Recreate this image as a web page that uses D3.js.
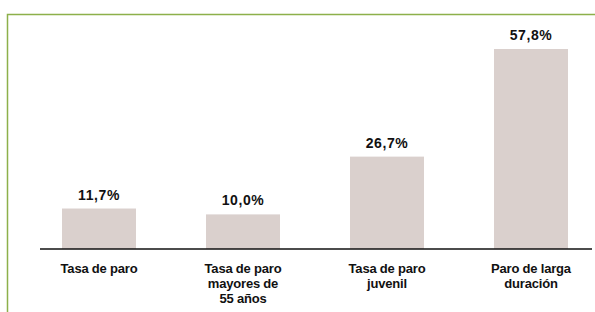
<!DOCTYPE html>
<html>
<head>
<meta charset="utf-8">
<script src="https://cdn.jsdelivr.net/npm/d3@7"></script>
<style>
  body { margin: 0; background: #fff; }
  svg { display: block; font-family: 'Liberation Sans', Arial, sans-serif; }
</style>
</head>
<body>
<div id="chart"></div>
<script>
const categories = [
  ['Tasa de paro'],
  ['Tasa de paro', 'mayores de', '55 años'],
  ['Tasa de paro', 'juvenil'],
  ['Paro de larga', 'duración']
]
const values = [11.7, 10.0, 26.7, 57.8]
const valueLabels = ['11,7%', '10,0%', '26,7%', '57,8%']

const width = 595
const height = 312

const svg = d3.select('#chart')
    .append('svg')
    .attr('width', width)
    .attr('height', height)

// green frame (top + left)
svg.append('path')
    .attr('d', 'M7.5,' + height + 'V14.5H' + width)
    .attr('fill', 'none')
    .attr('stroke', '#8db04a')
    .attr('stroke-width', 1.5)

const baseY = 249
const x = d3.scaleBand()
    .domain(d3.range(values.length))
    .range([27, 603])
    .paddingInner(0.486)
    .paddingOuter(0.243)
const y = d3.scaleLinear().domain([0, 57.8]).range([baseY, 49])

const g = svg.append('g')

g.selectAll('rect.bar')
    .data(values)
    .enter().append('rect')
    .attr('class', 'bar')
    .attr('x', (d, i) => x(i))
    .attr('width', x.bandwidth())
    .attr('y', d => y(d))
    .attr('height', d => y(0) - y(d))
    .attr('fill', '#dad0cd')

g.selectAll('text.val')
    .data(values)
    .enter().append('text')
    .attr('class', 'val')
    .attr('x', (d, i) => x(i) + x.bandwidth() / 2)
    .attr('y', d => y(d) - 9)
    .attr('text-anchor', 'middle')
    .attr('font-size', 14)
    .attr('font-weight', 'bold')
    .attr('letter-spacing', 0.6)
    .attr('fill', '#111')
    .text((d, i) => valueLabels[i])

// baseline
g.append('line')
    .attr('x1', 40).attr('x2', 592)
    .attr('y1', baseY).attr('y2', baseY)
    .attr('stroke', '#111')
    .attr('stroke-width', 1.6)

const labels = g.selectAll('text.cat')
    .data(categories)
    .enter().append('text')
    .attr('class', 'cat')
    .attr('text-anchor', 'middle')
    .attr('font-size', 13)
    .attr('font-weight', 'bold')
    .attr('letter-spacing', -0.2)
    .attr('fill', '#111')

labels.selectAll('tspan')
    .data((d, i) => d.map(t => ({ t: t, i: i })))
    .enter().append('tspan')
    .attr('x', d => x(d.i) + x.bandwidth() / 2)
    .attr('y', (d, j) => 273 + j * 15)
    .text(d => d.t)
</script>
</body>
</html>
